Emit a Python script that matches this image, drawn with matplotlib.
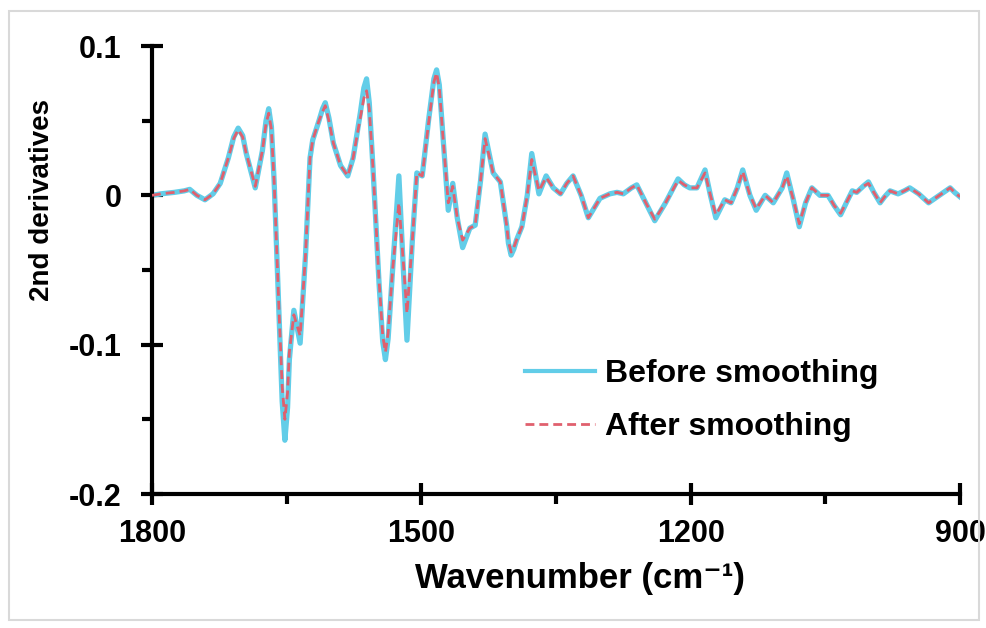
import matplotlib
matplotlib.use("Agg")
import matplotlib.pyplot as plt
from matplotlib.patches import Rectangle
from matplotlib.ticker import MultipleLocator

plt.rcParams["font.family"] = ["Liberation Sans", "DejaVu Sans"]
plt.rcParams["font.weight"] = "bold"

# wavenumber (cm-1) and 2nd-derivative values
wavenumber = [
    1800, 1790, 1775, 1764, 1758, 1750, 1741, 1732, 1724, 1715,
    1709, 1704, 1699, 1695, 1685, 1677, 1673, 1670, 1667, 1664,
    1658, 1655, 1652, 1649, 1647, 1642, 1635, 1629, 1624, 1621,
    1614, 1610, 1607, 1603, 1598, 1590, 1582, 1576, 1568, 1564,
    1561, 1558, 1554, 1547, 1543, 1540, 1537, 1532, 1525, 1520,
    1516, 1510, 1505, 1499, 1492, 1486, 1483, 1480, 1476, 1470,
    1465, 1460, 1454, 1446, 1440, 1434, 1429, 1420, 1412, 1405,
    1403, 1400, 1397, 1394, 1388, 1382, 1377, 1369, 1361, 1353,
    1345, 1338, 1331, 1322, 1314, 1307, 1301, 1290, 1282, 1275,
    1266, 1260, 1250, 1240, 1228, 1214, 1207, 1201, 1193, 1184,
    1178, 1172, 1162, 1155, 1148, 1142, 1134, 1127, 1117, 1108,
    1098, 1093, 1086, 1079, 1072, 1065, 1056, 1047, 1040, 1033,
    1025, 1020, 1015, 1008, 1002, 996, 989, 984, 978, 969,
    962, 956, 946, 935, 923, 911, 906, 900,
]
before = [
    0.000, 0.001, 0.002, 0.003, 0.004, 0.000, -0.003, 0.001, 0.008, 0.025,
    0.039, 0.045, 0.040, 0.028, 0.005, 0.030, 0.050, 0.058, 0.046, 0.010,
    -0.090, -0.138, -0.164, -0.142, -0.110, -0.077, -0.099, -0.040, 0.025, 0.037,
    0.050, 0.058, 0.062, 0.052, 0.035, 0.020, 0.013, 0.025, 0.055, 0.072,
    0.078, 0.062, 0.020, -0.060, -0.098, -0.110, -0.096, -0.050, 0.013, -0.050,
    -0.097, -0.030, 0.015, 0.013, 0.050, 0.078, 0.084, 0.074, 0.040, -0.010,
    0.008, -0.015, -0.035, -0.022, -0.020, 0.010, 0.041, 0.015, 0.009, -0.020,
    -0.032, -0.040, -0.036, -0.030, -0.021, 0.000, 0.028, 0.001, 0.013, 0.005,
    0.001, 0.008, 0.013, 0.000, -0.015, -0.008, -0.002, 0.001, 0.002, 0.001,
    0.005, 0.007, -0.005, -0.017, -0.005, 0.011, 0.007, 0.005, 0.005, 0.017,
    0.000, -0.015, -0.003, -0.005, 0.005, 0.017, 0.000, -0.010, 0.000, -0.005,
    0.005, 0.015, -0.002, -0.021, -0.005, 0.005, 0.000, 0.000, -0.007, -0.013,
    -0.003, 0.003, 0.002, 0.006, 0.009, 0.002, -0.005, -0.001, 0.003, 0.001,
    0.003, 0.005, 0.001, -0.005, 0.000, 0.005, 0.002, -0.001,
]
after = [
    0.000, 0.001, 0.002, 0.003, 0.004, 0.000, -0.003, 0.001, 0.008, 0.025,
    0.038, 0.044, 0.039, 0.028, 0.006, 0.030, 0.048, 0.055, 0.044, 0.010,
    -0.085, -0.128, -0.150, -0.132, -0.105, -0.080, -0.094, -0.040, 0.025, 0.037,
    0.050, 0.056, 0.060, 0.050, 0.035, 0.020, 0.013, 0.025, 0.052, 0.065,
    0.070, 0.058, 0.020, -0.058, -0.094, -0.105, -0.092, -0.050, -0.005, -0.045,
    -0.079, -0.030, 0.015, 0.013, 0.048, 0.076, 0.082, 0.072, 0.040, -0.005,
    0.006, -0.015, -0.030, -0.022, -0.020, 0.010, 0.038, 0.015, 0.009, -0.020,
    -0.031, -0.038, -0.035, -0.030, -0.021, 0.000, 0.024, 0.003, 0.012, 0.005,
    0.001, 0.008, 0.013, 0.000, -0.015, -0.008, -0.002, 0.001, 0.002, 0.001,
    0.005, 0.007, -0.005, -0.016, -0.005, 0.010, 0.007, 0.005, 0.005, 0.015,
    0.000, -0.013, -0.003, -0.005, 0.005, 0.016, 0.000, -0.009, 0.000, -0.005,
    0.005, 0.013, -0.002, -0.019, -0.005, 0.005, 0.000, 0.000, -0.007, -0.012,
    -0.003, 0.003, 0.002, 0.006, 0.008, 0.002, -0.005, -0.001, 0.003, 0.001,
    0.003, 0.005, 0.001, -0.005, 0.000, 0.005, 0.002, -0.001,
]
x_ticks = [1800, 1500, 1200, 900]
y_ticks = [0.1, 0, -0.1, -0.2]
y_labels = ["0.1", "0", "-0.1", "-0.2"]

fig = plt.figure(figsize=(9.87, 6.28), dpi=100)
fig.patches.append(Rectangle((9 / 987, 8 / 628), 970 / 987, 609 / 628,
                             transform=fig.transFigure, fill=False,
                             edgecolor="#d9d9d9", linewidth=1.5))
ax = fig.add_axes([152 / 987, 134 / 628, 808 / 987, 448 / 628])

ax.plot(wavenumber, before, color="#62cde8", lw=3.8, label="Before smoothing",
        solid_joinstyle="round", zorder=2)
ax.plot(wavenumber, after, color="#e0606e", lw=2.0, ls=(0, (3.2, 1.8)),
        label="After smoothing", zorder=3)

ax.set_xlim(1800, 900)
ax.set_ylim(-0.2, 0.1)
ax.set_xticks(x_ticks)
ax.set_xticklabels([str(v) for v in x_ticks])
ax.set_yticks(y_ticks)
ax.set_yticklabels(y_labels)
ax.xaxis.set_minor_locator(MultipleLocator(150))
ax.yaxis.set_minor_locator(MultipleLocator(0.05))

for side in ("top", "right"):
    ax.spines[side].set_visible(False)
for side in ("left", "bottom"):
    ax.spines[side].set_linewidth(3)
ax.tick_params(which="major", direction="inout", length=16, width=3,
               labelsize=22)
ax.tick_params(which="minor", direction="out", length=7, width=3)
ax.tick_params(axis="x", which="major", pad=10)
ax.tick_params(axis="y", which="major", pad=14)

ax.set_xlabel("Wavenumber (cm\u207b\u00b9)", fontsize=25, fontweight="bold")
ax.xaxis.set_label_coords((580 - 152) / 808, -0.152)
ax.set_ylabel("2nd derivatives", fontsize=20, fontweight="bold")
ax.yaxis.set_label_coords(-0.12, (494 - 200) / 448)

leg = ax.legend(loc="center left", bbox_to_anchor=(0.4616, 0.208), frameon=False,
                handlelength=2.2, handletextpad=0.3, labelspacing=0.72,
                borderpad=0, borderaxespad=0,
                prop={"weight": "bold", "size": 23})
leg.get_lines()[0].set_linewidth(3)

fig.savefig("out.png", dpi=100)
